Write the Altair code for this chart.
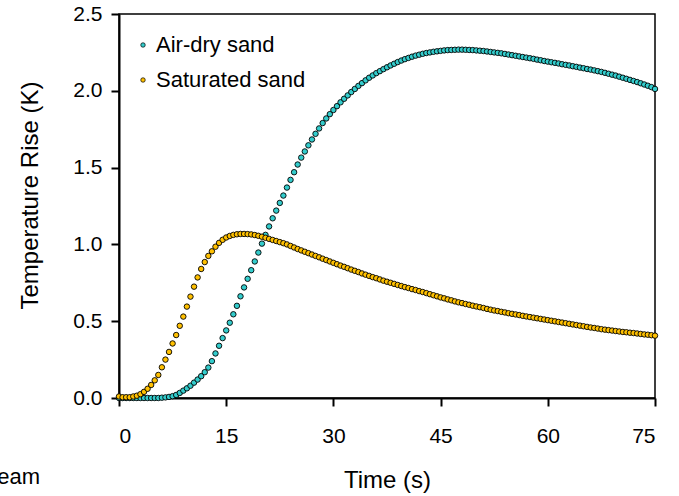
import altair as alt
import pandas as pd

FONT = "Liberation Sans"

series_names = ["Air-dry sand", "Saturated sand"]
series_colors = ["#33CCCC", "#FFC000"]

x_ticks = [0, 15, 30, 45, 60, 75]
y_ticks = [0.0, 0.5, 1.0, 1.5, 2.0, 2.5]

# time stamps (s), one every 0.5 s
time_s = [i * 0.5 for i in range(151)]

air_dry = [
    0.0, 0.0, 0.0, 0.0, 0.0, 0.0, 0.0, 0.0, 0.0, 0.0, 0.0, 0.0,
    0.002, 0.004, 0.007, 0.012, 0.02, 0.033, 0.048, 0.063, 0.08, 0.10,
    0.12, 0.142, 0.168, 0.198, 0.24, 0.29, 0.34, 0.39, 0.44, 0.49,
    0.545, 0.60, 0.662, 0.72, 0.776, 0.832, 0.889, 0.947, 1.005, 1.062,
    1.117, 1.17, 1.22, 1.27, 1.318, 1.37, 1.42, 1.47, 1.52, 1.565,
    1.605, 1.645, 1.683, 1.72, 1.755, 1.79, 1.82, 1.848, 1.875, 1.90,
    1.925, 1.948, 1.97, 1.992, 2.012, 2.032, 2.05, 2.068, 2.085, 2.10,
    2.115, 2.128, 2.141, 2.153, 2.165, 2.176, 2.187, 2.197, 2.206, 2.214,
    2.222, 2.229, 2.235, 2.241, 2.246, 2.25, 2.254, 2.257, 2.26, 2.263,
    2.265, 2.266, 2.267, 2.268, 2.268, 2.267, 2.266, 2.265, 2.263,
    2.261, 2.259, 2.256, 2.253, 2.25, 2.247, 2.244, 2.24, 2.236, 2.232,
    2.228, 2.224, 2.22, 2.216, 2.212, 2.208, 2.203, 2.199, 2.194, 2.19,
    2.186, 2.182, 2.178, 2.173, 2.169, 2.165, 2.16, 2.156, 2.151, 2.147,
    2.142, 2.138, 2.133, 2.128, 2.123, 2.117, 2.111, 2.105, 2.099, 2.092,
    2.085, 2.078, 2.071, 2.064, 2.057, 2.049, 2.041, 2.033, 2.024, 2.012,
]

saturated = [
    0.01, 0.005, 0.005, 0.005, 0.01, 0.015, 0.025, 0.04, 0.06, 0.085,
    0.115, 0.15, 0.20, 0.25, 0.30, 0.355, 0.41, 0.47, 0.53, 0.595,
    0.66, 0.725, 0.785, 0.84, 0.885, 0.925, 0.955, 0.985, 1.01, 1.03,
    1.045, 1.055, 1.062, 1.066, 1.068, 1.068, 1.067, 1.065, 1.061, 1.056,
    1.05, 1.043, 1.036, 1.029, 1.022, 1.015,
    1.008, 1.000, 0.990, 0.980, 0.970, 0.961, 0.952, 0.943, 0.934, 0.925,
    0.916, 0.907, 0.898, 0.889, 0.880, 0.871, 0.862, 0.854, 0.845, 0.836,
    0.828, 0.820, 0.811, 0.803, 0.795, 0.787, 0.780, 0.772, 0.764, 0.757,
    0.750, 0.743, 0.736, 0.729, 0.722, 0.716, 0.709, 0.703, 0.696, 0.690,
    0.683, 0.676, 0.669, 0.662, 0.655, 0.649, 0.642, 0.636, 0.629, 0.623,
    0.618, 0.612, 0.607, 0.601, 0.596, 0.591, 0.586, 0.580, 0.575, 0.570,
    0.566, 0.561, 0.557, 0.552, 0.548, 0.544, 0.540, 0.535, 0.531, 0.527,
    0.523, 0.519, 0.515, 0.511, 0.507, 0.503, 0.499, 0.495, 0.491, 0.487,
    0.483, 0.479, 0.475, 0.471, 0.467, 0.463, 0.459, 0.456, 0.452, 0.448,
    0.445, 0.442, 0.439, 0.436, 0.433, 0.430, 0.428, 0.425, 0.423, 0.420,
    0.417, 0.414, 0.412, 0.409, 0.406,
]

assert len(air_dry) == 151, len(air_dry)
assert len(saturated) == 151, len(saturated)

df = pd.concat([
    pd.DataFrame({"Time": time_s, "Rise": air_dry, "Series": series_names[0], "o": 0}),
    pd.DataFrame({"Time": time_s, "Rise": saturated, "Series": series_names[1], "o": 1}),
])

points = alt.Chart(df).mark_point(
    filled=True, shape="circle", size=30, stroke="black", strokeWidth=0.9, opacity=1
).encode(
    x=alt.X("Time:Q", scale=alt.Scale(domain=[0, 75], nice=False, zero=False),
            axis=alt.Axis(values=x_ticks, title="Time (s)", labelPadding=19,
                          titleX=268, titleY=89, titleBaseline="alphabetic",
                          titleAlign="center")),
    y=alt.Y("Rise:Q", scale=alt.Scale(domain=[0, 2.5], nice=False),
            axis=alt.Axis(values=y_ticks, format=".1f", title="Temperature Rise (K)",
                          labelPadding=9, titleX=-82, titleY=181, titleAngle=270,
                          titleBaseline="alphabetic", titleAlign="center")),
    color=alt.Color("Series:N", scale=alt.Scale(domain=series_names, range=series_colors),
                    legend=alt.Legend(orient="none", legendX=13, legendY=20, title=None,
                                      direction="vertical", symbolType="circle", symbolSize=20,
                                      symbolStrokeColor="black", symbolStrokeWidth=0.7,
                                      labelFont=FONT, labelFontSize=22, labelColor="black",
                                      rowPadding=13, labelOffset=2, padding=0)),
    order=alt.Order("o:Q"),
)

cut_text = alt.Chart(pd.DataFrame({"t": ["eam"]})).mark_text(
    font=FONT, fontSize=22, align="right", baseline="alphabetic", color="black"
).encode(text="t:N", x=alt.value(-79), y=alt.value(470))

chart = alt.layer(points, cut_text).properties(
    width=536, height=384,
    autosize="none",
    padding={"left": 119, "top": 14, "right": 24, "bottom": 98},
).configure_view(
    stroke="black", strokeWidth=1.5
).configure_axis(
    labelFont=FONT, labelFontSize=21, labelColor="black",
    titleFont=FONT, titleFontSize=24, titleFontWeight="normal", titleColor="black",
    domainColor="black", domainWidth=2, tickColor="black", tickWidth=2, tickSize=8,
    grid=False,
)

chart.save("out.html", embed_options={"renderer": "svg", "actions": False})
